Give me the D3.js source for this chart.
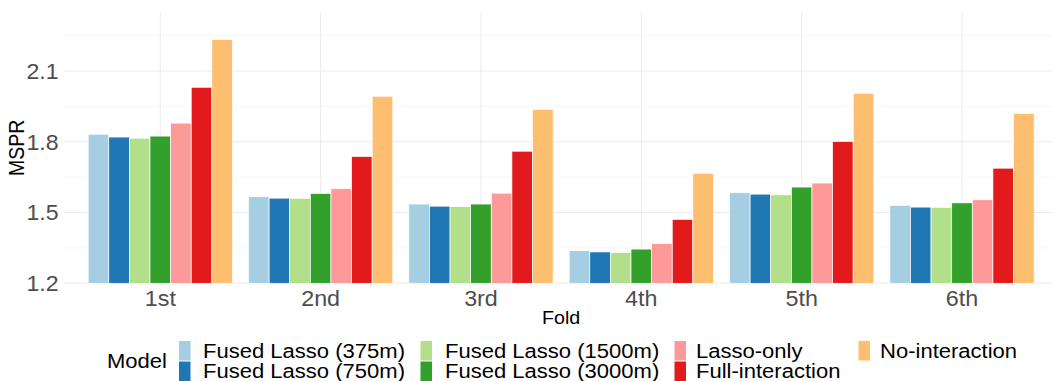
<!DOCTYPE html>
<html>
<head>
<meta charset="utf-8">
<script src="https://cdn.jsdelivr.net/npm/d3@7"></script>
<style>
  html, body { margin: 0; padding: 0; background: #ffffff; }
  svg { display: block; font-family: "Liberation Sans", Arial, Helvetica, sans-serif; }
</style>
</head>
<body>
<svg id="chart" width="1052" height="381"></svg>
<script>
// ---------------- data ----------------
const folds = ["1st", "2nd", "3rd", "4th", "5th", "6th"];
const models = [
  "Fused Lasso (375m)", "Fused Lasso (750m)", "Fused Lasso (1500m)",
  "Fused Lasso (3000m)", "Lasso-only", "Full-interaction", "No-interaction"
];
const colors = ["#A6CEE3", "#1F78B4", "#B2DF8A", "#33A02C", "#FB9A99", "#E31A1C", "#FDBF6F"];

const fusedLasso375  = [1.832, 1.567, 1.536, 1.338, 1.584, 1.530];
const fusedLasso750  = [1.820, 1.561, 1.527, 1.333, 1.578, 1.523];
const fusedLasso1500 = [1.815, 1.560, 1.525, 1.330, 1.575, 1.522];
const fusedLasso3000 = [1.824, 1.581, 1.536, 1.345, 1.608, 1.541];
const lassoOnly      = [1.879, 1.601, 1.582, 1.369, 1.625, 1.554];
const fullInteraction= [2.031, 1.738, 1.760, 1.471, 1.801, 1.688];
const noInteraction  = [2.233, 1.993, 1.937, 1.666, 2.005, 1.920];

const yMajorTicks = [1.2, 1.5, 1.8, 2.1];
const yMinorTicks = [1.35, 1.65, 1.95, 2.25];
const yTickLabels = ["1.2", "1.5", "1.8", "2.1"];

const seriesValues = [fusedLasso375, fusedLasso750, fusedLasso1500, fusedLasso3000,
                      lassoOnly, fullInteraction, noInteraction];

// ---------------- layout ----------------
const panelLeft = 64.1, panelRight = 1058.2;
const panelTop = 12.3, panelBottom = 283.3;

const svg = d3.select("#chart");
const g = svg.append("g");

const x = d3.scaleBand().domain(folds).range([panelLeft, panelRight])
  .paddingInner(0.1).paddingOuter(0.15);
const xm = d3.scaleBand().domain(models).range([0, x.bandwidth()]);
const y = d3.scaleLinear().domain([1.2, 2.1]).range([panelBottom, 71]);
const color = d3.scaleOrdinal().domain(models).range(colors);

// text placed with a slight horizontal stretch (the original figure is widened)
function place(sel, fxp, fyp, sx) {
  return sel.attr("transform", (d, i) => `translate(${fxp(d, i)},${fyp(d, i)}) scale(${sx},1)`);
}

// grid
g.append("g").selectAll("line").data(yMinorTicks).join("line")
  .attr("x1", panelLeft).attr("x2", panelRight)
  .attr("y1", d => y(d)).attr("y2", d => y(d))
  .attr("stroke", "#F4F4F4").attr("stroke-width", 0.8);
g.append("g").selectAll("line").data(yMajorTicks).join("line")
  .attr("x1", panelLeft).attr("x2", panelRight)
  .attr("y1", d => y(d)).attr("y2", d => y(d))
  .attr("stroke", "#EBEBEB").attr("stroke-width", 1.1);
g.append("g").selectAll("line").data(folds).join("line")
  .attr("x1", d => x(d) + x.bandwidth() / 2).attr("x2", d => x(d) + x.bandwidth() / 2)
  .attr("y1", panelTop).attr("y2", panelBottom)
  .attr("stroke", "#EBEBEB").attr("stroke-width", 1);

// bars
const rows = [];
folds.forEach((f, i) => models.forEach((m, j) => rows.push({ fold: f, model: m, value: seriesValues[j][i] })));
g.append("g").selectAll("rect").data(rows).join("rect")
  .attr("x", d => x(d.fold) + xm(d.model))
  .attr("width", xm.bandwidth())
  .attr("y", d => y(d.value))
  .attr("height", d => y(1.2) - y(d.value))
  .attr("fill", d => color(d.model))
  .attr("stroke", "#ffffff").attr("stroke-width", 0.7);

// y axis labels
place(g.append("g").selectAll("text").data(yMajorTicks).join("text"),
      () => 58.5, d => y(d), 1.05)
  .attr("dy", "0.36em")
  .attr("text-anchor", "end").attr("font-size", 22).attr("fill", "#4D4D4D")
  .text((d, i) => yTickLabels[i]);

// x axis labels
place(g.append("g").selectAll("text").data(folds).join("text"),
      d => x(d) + x.bandwidth() / 2, () => 305.5, 1.06)
  .attr("text-anchor", "middle").attr("font-size", 22).attr("fill", "#4D4D4D")
  .text(d => d);

// axis titles
place(g.append("text"), () => (panelLeft + panelRight) / 2, () => 323.5, 1.06)
  .attr("text-anchor", "middle").attr("font-size", 18.5).attr("fill", "#000")
  .text("Fold");
g.append("text")
  .attr("transform", `translate(24,${(panelTop + panelBottom) / 2}) rotate(-90) scale(1,1.1)`)
  .attr("text-anchor", "middle").attr("font-size", 19.5).attr("fill", "#000")
  .text("MSPR");

// legend
const legend = g.append("g");
place(legend.append("text"), () => 107, () => 367.5, 1.13)
  .attr("font-size", 19.5).attr("fill", "#000").text("Model");
const colKeyX = [179, 420.5, 674.5, 858.5];
const colTextX = [203, 445, 696, 880];
const rowKeyY = [341, 361.5];
const rowTextY = [357.8, 377.8];
const items = legend.selectAll("g.item").data(models).join("g").attr("class", "item");
items.append("rect")
  .attr("x", (d, i) => colKeyX[Math.floor(i / 2)])
  .attr("y", (d, i) => rowKeyY[i % 2])
  .attr("width", 11.5).attr("height", 19.5)
  .attr("fill", d => color(d));
place(items.append("text"),
      (d, i) => colTextX[Math.floor(i / 2)], (d, i) => rowTextY[i % 2], 1.13)
  .attr("font-size", 19.5).attr("fill", "#000")
  .text(d => d);
</script>
</body>
</html>
